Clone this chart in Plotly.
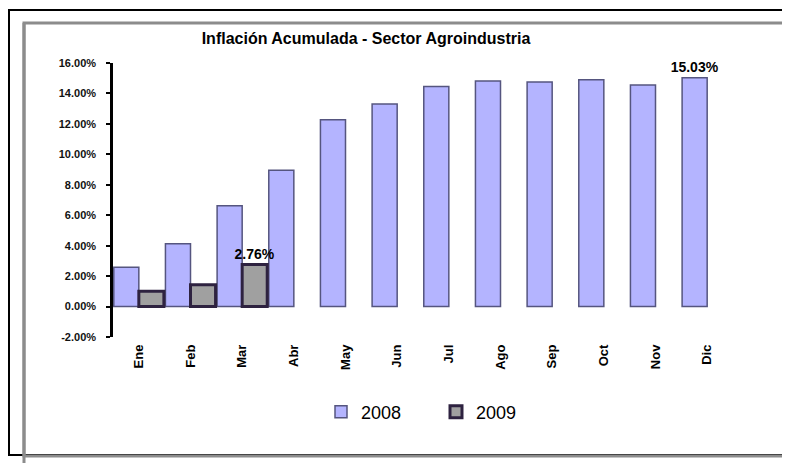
import plotly.graph_objects as go

months = ["Ene", "Feb", "Mar", "Abr", "May", "Jun", "Jul", "Ago", "Sep", "Oct", "Nov", "Dic"]
values_2008 = [2.58, 4.13, 6.62, 8.95, 12.28, 13.30, 14.45, 14.82, 14.75, 14.90, 14.55, 15.03]
months_2009 = ["Ene", "Feb", "Mar"]
values_2009 = [1.00, 1.44, 2.76]
labeled_2008 = ["Dic"]
labeled_2009 = ["Mar"]
y_ticks = [-2, 0, 2, 4, 6, 8, 10, 12, 14, 16]

# page body has an 8px margin; work in window pixels and convert
OFF = 8
W, H = 790 - OFF, 463 - OFF
PL, PR, PT, PB = 113, 733, 63, 337  # plot area in window pixels
ML, MR, MT, MB = PL - OFF, W - (PR - OFF), PT - OFF, H - (PB - OFF)
PW = PR - PL
PH = PB - PT


def px_x(p):
    return (p - PL) / PW


def px_y(p):
    return (PB - p) / PH


text_2008 = [f"{v:.2f}%" if m in labeled_2008 else "" for m, v in zip(months, values_2008)]
text_2009 = [f"{v:.2f}%" if m in labeled_2009 else "" for m, v in zip(months_2009, values_2009)]

label_font = dict(family="Liberation Sans", size=14, color="black", weight="bold")

fig = go.Figure()
fig.add_trace(go.Bar(
    name="2008", x=months, y=values_2008,
    marker=dict(color="#b4b4ff", line=dict(color="#55557f", width=1.5)),
    text=text_2008, textposition="outside", cliponaxis=False, constraintext="none",
    textfont=label_font,
))
fig.add_trace(go.Bar(
    name="2009", x=months_2009, y=values_2009,
    marker=dict(color="#a0a0a0", line=dict(color="#2e2240", width=3)),
    text=text_2009, textposition="outside", cliponaxis=False, constraintext="none",
    textfont=label_font,
))

shapes = [
    dict(type="rect", xref="paper", yref="paper",
         x0=px_x(9), x1=px_x(800), y0=px_y(455), y1=px_y(10),
         line=dict(color="black", width=2), layer="below"),
    dict(type="rect", xref="paper", yref="paper",
         x0=px_x(24), x1=px_x(800), y0=px_y(456), y1=px_y(23),
         line=dict(color="#8c8c8c", width=3), layer="below"),
    dict(type="line", xref="paper", yref="paper",
         x0=px_x(24), x1=px_x(24), y0=px_y(480), y1=px_y(23),
         line=dict(color="#8c8c8c", width=3), layer="below"),
]

fig.update_layout(
    width=W, height=H,
    margin=dict(l=ML, r=MR, t=MT, b=MB),
    paper_bgcolor="white", plot_bgcolor="white",
    barmode="group", bargap=0.03, bargroupgap=0,
    font=dict(family="Liberation Sans", color="black"),
    title=dict(text="<b>Inflación Acumulada - Sector Agroindustria</b>",
               font=dict(size=16, color="black", family="Liberation Sans"),
               xref="container", yref="container",
               x=(366 - OFF) / W, y=1 - (38 - OFF) / H, xanchor="center", yanchor="middle"),
    showlegend=True,
    legend=dict(orientation="h", x=px_x(436), y=px_y(412),
                xanchor="center", yanchor="middle",
                font=dict(size=18, color="black"),
                entrywidth=70, entrywidthmode="pixels",
                itemwidth=30, traceorder="normal"),
    xaxis=dict(type="category", categoryorder="array", categoryarray=months,
               range=[-0.5, 11.5], showline=False, showgrid=False, zeroline=False,
               ticks="", tickangle=-90, ticklabelstandoff=4,
               tickfont=dict(size=13, color="black", weight="bold")),
    xaxis2=dict(type="linear", overlaying="x", anchor="free",
                position=(0 - y_ticks[0]) / (y_ticks[-1] - y_ticks[0]),
                range=[-0.5, 11.5], showline=True, linecolor="black", linewidth=2.5,
                ticks="outside", ticklen=5, tickwidth=2, tickcolor="black",
                tickvals=[i + 0.5 for i in range(len(months))],
                showticklabels=False, showgrid=False, zeroline=False),
    yaxis=dict(range=[y_ticks[0], y_ticks[-1]], tickvals=y_ticks,
               ticktext=[f"{v:.2f}%" for v in y_ticks],
               showline=True, linecolor="black", linewidth=2.5,
               ticks="outside", ticklen=4, tickwidth=1.5, tickcolor="black",
               showgrid=False, zeroline=False, ticklabelstandoff=8,
               tickfont=dict(size=11, color="#111", weight="bold")),
    shapes=shapes,
)

fig.write_html("out.html")
